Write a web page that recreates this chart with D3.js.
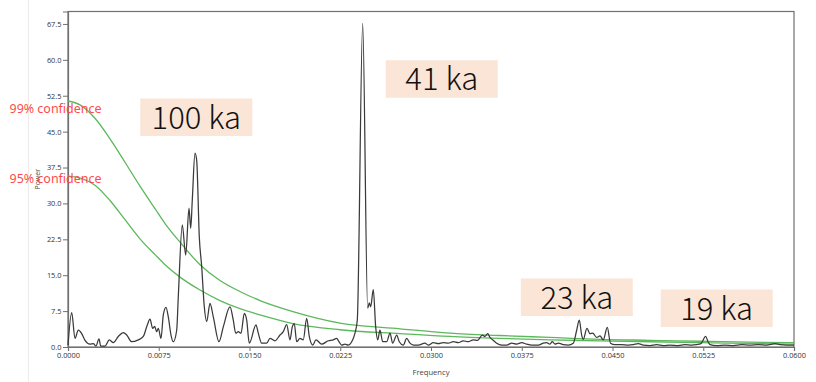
<!DOCTYPE html>
<html><head><meta charset="utf-8">
<script src="https://cdn.jsdelivr.net/npm/d3@7"></script>
<style>html,body{margin:0;padding:0;background:#fff;} svg{display:block;}</style>
</head><body>
<script>
// ---- data ----
const freq = [0.0000,0.000306,0.000578,0.000851,0.001132,0.001405,0.001818,0.002091,0.002314,0.002562,0.002702,0.003058,0.003413,0.003744,0.004157,0.004570,0.004851,0.005264,0.005810,0.006223,0.006553,0.006777,0.007000,0.007165,0.007330,0.007463,0.007686,0.007876,0.008099,0.008289,0.008512,0.008702,0.008983,0.009115,0.009446,0.009727,0.010000,0.010140,0.010272,0.010495,0.010636,0.010851,0.011049,0.011264,0.011462,0.011735,0.012008,0.012479,0.012834,0.013388,0.013661,0.013859,0.014074,0.014297,0.014570,0.014768,0.014983,0.015536,0.015727,0.016007,0.016421,0.016693,0.017106,0.017520,0.017792,0.018073,0.018346,0.018536,0.018702,0.018900,0.019172,0.019445,0.019726,0.019941,0.020222,0.020495,0.020966,0.021511,0.021924,0.022205,0.022395,0.022618,0.022891,0.023164,0.023527,0.023718,0.023908,0.024354,0.024767,0.024899,0.025015,0.025230,0.025428,0.025594,0.025784,0.026007,0.026338,0.026610,0.026833,0.027164,0.027379,0.027709,0.027990,0.028263,0.028536,0.028949,0.029503,0.029775,0.030189,0.030602,0.031015,0.031428,0.031841,0.032254,0.032668,0.033081,0.033494,0.033858,0.034238,0.034461,0.034684,0.034874,0.035147,0.035428,0.035841,0.036254,0.036667,0.037081,0.037494,0.037907,0.038320,0.038866,0.039279,0.039560,0.039833,0.040023,0.040246,0.040519,0.040931,0.041345,0.041758,0.042039,0.042254,0.042452,0.042584,0.042890,0.043138,0.043361,0.043693,0.043965,0.044238,0.044568,0.044833,0.045204,0.045758,0.046303,0.046716,0.047130,0.047543,0.048096,0.048650,0.049196,0.049749,0.050435,0.050989,0.051542,0.051956,0.052311,0.052700,0.052914,0.053055,0.053608,0.054294,0.054980,0.055675,0.056361,0.057046,0.057741,0.058426,0.058839,0.059394,0.060000];
const power = [0.4,7.2,1.8,3.5,2.8,1.4,0.6,0.7,0.2,1.7,0.2,0.2,1.5,0.9,2.2,3.0,2.5,1.1,1.5,2.2,4.6,5.8,3.9,4.3,3.2,3.9,1.8,6.7,8.3,6.3,2.5,1.1,3.5,10.5,25.5,19.2,29.0,24.8,30.7,40.5,39.0,23.0,16.8,8.4,5.3,9.1,6.3,1.1,4.2,8.4,5.6,2.9,3.2,2.9,7.0,5.6,0.8,4.6,2.9,0.8,0.8,1.8,1.3,2.5,3.2,4.7,1.5,4.2,4.9,1.1,1.8,1.5,6.0,2.2,0.4,1.5,0.6,1.3,1.5,1.8,1.1,0.4,0.6,0.4,1.5,2.9,5.6,67.6,8.1,9.2,8.4,12.0,4.2,1.5,3.5,1.1,1.1,2.9,0.8,2.5,1.1,0.4,1.8,0.8,0.4,0.4,0.8,0.4,0.9,0.7,0.9,0.8,1.1,0.9,1.3,1.1,1.5,1.4,2.5,2.2,2.8,2.0,1.4,0.8,0.4,0.4,0.8,0.6,0.9,0.6,0.4,0.4,0.8,0.9,0.6,1.1,0.6,0.8,0.5,0.4,0.8,3.5,5.6,2.5,1.6,3.9,2.8,2.9,2.0,2.3,1.5,4.1,0.8,0.5,0.5,0.4,0.5,0.7,0.4,0.3,0.5,0.3,0.4,0.3,0.5,0.4,0.5,0.7,2.2,1.0,0.5,0.3,0.4,0.3,0.5,0.4,0.5,0.4,0.7,0.5,0.4,0.4];

const confFreq = [0,0.00099,0.00223,0.00347,0.00471,0.00595,0.00719,0.00802,0.00926,0.01091,0.01256,0.01421,0.01587,0.01859,0.02248,0.02744,0.03157,0.03570,0.03983,0.04397,0.04810,0.05223,0.05636,0.06];
const conf99 = [51.4,50.6,47.8,43.5,38.6,33.6,28.9,25.8,21.9,17.2,13.9,11.6,9.7,7.4,5.0,3.8,2.9,2.4,2.0,1.6,1.4,1.2,1.0,0.9];
const conf95 = [35.7,35.3,33.8,30.6,26.6,22.6,19.3,17.2,14.6,11.9,9.7,8.0,6.7,4.9,3.6,2.8,2.2,1.8,1.5,1.3,1.1,0.9,0.75,0.6];

const yTicks = [0,7.5,15,22.5,30,37.5,45,52.5,60,67.5];
const xTicks = [0,0.0075,0.015,0.0225,0.03,0.0375,0.045,0.0525,0.06];

const annoText = ["100 ka","41 ka","23 ka","19 ka"];
const annoFreq = [0.0106,0.03089,0.04205,0.05361];
const annoPower = [48.0,56.0,10.4,8.1];

const confLabels = ["99% confidence","95% confidence"];

// ---- layout ----
const W = 816, H = 382;
const m = {left:68, top:11.5, right:22, bottom:35};
const svg = d3.select("body").append("svg").attr("width",W).attr("height",H);

// faint vertical guide at far left
svg.append("line").attr("x1",28.5).attr("x2",28.5).attr("y1",0).attr("y2",H)
  .attr("stroke","#ececec").attr("stroke-width",1);

const x = d3.scaleLinear().domain([0,0.06]).range([m.left, W-m.right]);
const y = d3.scaleLinear().domain([0,70.1]).range([H-m.bottom, m.top]);

const fontTick = "'Open Sans', 'Noto Sans', sans-serif";

// frame
svg.append("rect").attr("x",x(0)).attr("y",m.top).attr("width",x(0.06)-x(0)).attr("height",y(0)-m.top)
  .attr("fill","none").attr("stroke","#707070").attr("stroke-width",1.2);

// axes
const yAxis = d3.axisLeft(y).tickValues(yTicks).tickFormat(d3.format(".1f")).tickSize(5).tickPadding(1.5);
const gy = svg.append("g").attr("transform",`translate(${x(0)},0)`).call(yAxis);
const xAxis = d3.axisBottom(x).tickValues(xTicks).tickFormat(d3.format(".4f")).tickSize(4).tickPadding(2);
const gx = svg.append("g").attr("transform",`translate(0,${y(0)})`).call(xAxis);
[gx,gy].forEach(g=>{
  g.select(".domain").attr("stroke","#707070").attr("stroke-width",1.2);
  g.selectAll(".tick line").attr("stroke","#707070");
  g.selectAll(".tick text").attr("fill","#333").attr("font-family",fontTick).attr("font-size",7.4);
});

// axis titles
svg.append("text").attr("x",(x(0)+x(0.06))/2).attr("y",374.5).attr("text-anchor","middle")
  .attr("font-family",fontTick).attr("font-size",7.6).attr("fill","#444").text("Frequency");
svg.append("text").attr("transform",`translate(39.5,${(y(0)+m.top)/2}) rotate(-90)`).attr("text-anchor","middle")
  .attr("font-family",fontTick).attr("font-size",7).attr("fill","#444").text("Power");

// confidence curves
const lineC = (arr)=> d3.line().x((d,i)=>x(confFreq[i])).y(d=>y(d)).curve(d3.curveMonotoneX)(arr);
[conf99,conf95].forEach(arr=>{
  svg.append("path").attr("d",lineC(arr)).attr("fill","none").attr("stroke","#5cb85c").attr("stroke-width",1.3);
});

// spectrum
const sLine = d3.line().x((d,i)=>x(freq[i])).y(d=>y(d)).curve(d3.curveMonotoneX);
svg.append("path").attr("d",sLine(power)).attr("fill","none").attr("stroke","#3a3a3a").attr("stroke-width",1.25)
  .attr("stroke-linejoin","round");

// confidence labels (red), anchored at the curve start values
const labelDy = [12.5, 6.5];
[conf99[0],conf95[0]].forEach((v,i)=>{
  svg.append("text").attr("x",9.5).attr("y",y(v)+labelDy[i])
    .attr("font-family","'Noto Sans', sans-serif").attr("font-size",12.5)
    .attr("textLength",92).attr("lengthAdjust","spacingAndGlyphs")
    .attr("fill","#ff4a4a").text(confLabels[i]);
});

// annotation boxes
const bw = 112, bh = 37.5;
annoText.forEach((t,i)=>{
  const cx = x(annoFreq[i]), cy = y(annoPower[i]);
  svg.append("rect").attr("x",cx-bw/2).attr("y",cy-bh/2).attr("width",bw).attr("height",bh).attr("fill","#fbe5d6");
  svg.append("text").attr("x",cx).attr("y",cy+11.5).attr("text-anchor","middle")
    .attr("font-family","'Noto Sans CJK SC','Noto Sans',sans-serif").attr("font-weight",300)
    .attr("font-size",31).attr("fill","#111").text(t);
});
</script>
</body></html>
